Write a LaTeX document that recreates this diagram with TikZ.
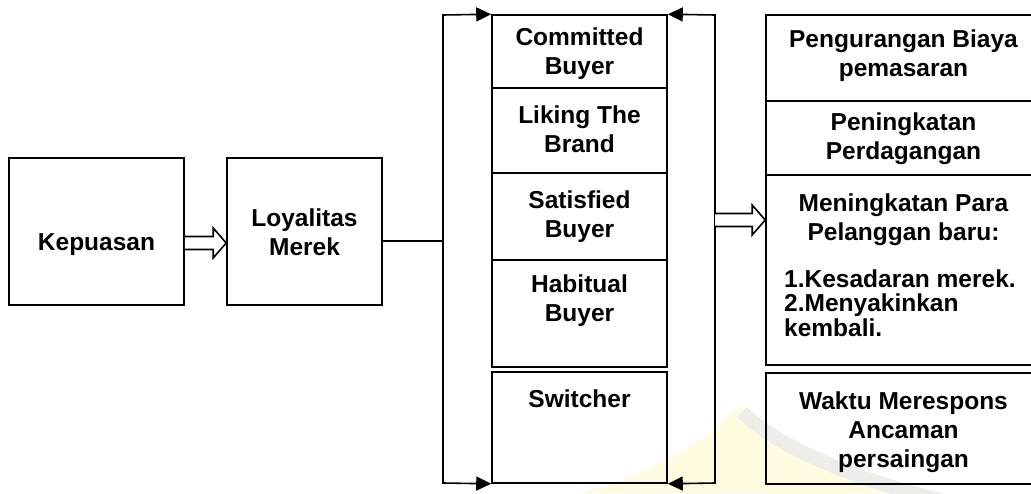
\documentclass[tikz,border=0pt]{standalone}
\usepackage{fontspec}
\setmainfont{Liberation Sans}
\usetikzlibrary{arrows.meta,calc}
\definecolor{crest}{HTML}{FFFBE0}
\definecolor{crestband}{HTML}{EDEDEA}
% lines set at their baselineskip even when they come close
\newcommand\tightlines{\lineskiplimit=-30pt\relax}
% hollow block arrow from the point #1 to the point #2 (horizontal)
\newcommand\fatarrow[2]{%
  \draw[hollow] let \p1=(#1), \p2=(#2) in
    (\x1,\y1+6.5pt) -- (\x2-13pt,\y1+6.5pt) -- (\x2-13pt,\y1+15pt) -- (\x2,\y1)
    -- (\x2-13pt,\y1-15pt) -- (\x2-13pt,\y1-6.5pt) -- (\x1,\y1-6.5pt);}
\begin{document}
\begin{tikzpicture}[x=1pt,y=-1pt,
  box/.style={draw=black,line width=1.6pt,rectangle,inner sep=0pt},
  lbl/.style={font=\fontsize{24.5}{29}\selectfont\bfseries,align=center,inner sep=0pt},
  listlbl/.style={font=\fontsize{24.5}{24.5}\selectfont\bfseries\tightlines,align=left,inner sep=0pt},
  wire/.style={draw=black,line width=1.6pt},
  hollow/.style={draw=black,line width=1.6pt,fill=white,line join=miter},
  tipr/.style={{Triangle[length=15pt,width=14pt]}-{Triangle[length=15pt,width=14pt]}}
]
\useasboundingbox (0,0) rectangle (1031,493);
\clip (0,0) rectangle (1031,493);
\fill[white] (0,0) rectangle (1031,493);

% faint crest in the background
\fill[crest] (580,493) .. controls (650,475) and (710,440) .. (738,405)
  .. controls (770,440) and (850,480) .. (940,493) -- cycle;
\draw[crestband,line width=14pt] (742,412) .. controls (775,445) and (850,478) .. (940,500);

% left pair
\node[box,minimum width=175,minimum height=147] (kep) at (96.5,231.5) {};
\node[box,minimum width=155,minimum height=147] (loy) at (304.5,231.5) {};
\node[lbl] (tkep) at (96.5,245) {Kepuasan};
\node[lbl] (tloy) at (304.5,232.5) {Loyalitas\\Merek};

% loyalty levels
\node[box,minimum width=175,minimum height=73]  (committed) at (579.5,51.5) {};
\node[box,minimum width=175,minimum height=85]  (liking)    at (579.5,130.5) {};
\node[box,minimum width=175,minimum height=87]  (satisfied) at (579.5,216.5) {};
\node[box,minimum width=175,minimum height=107] (habitual)  at (579.5,313.5) {};
\node[box,minimum width=175,minimum height=111] (switcher)  at (579.5,427.5) {};
\node[lbl] (tcommitted) at (579.5,54)  {Committed\\Buyer};
\node[lbl] (tliking)    at (579.5,129) {Liking The\\Brand};
\node[lbl] (tsatisfied) at (579.5,217) {Satisfied\\Buyer};
\node[lbl] (thabitual)  at (579.5,301) {Habitual\\Buyer};
\node[lbl] (tswitcher)  at (579.5,398.5) {Switcher};

% benefits
\node[box,minimum width=279,minimum height=86]  (r1) at (905.5,58) {};
\node[box,minimum width=279,minimum height=74]  (r2) at (905.5,138) {};
\node[box,minimum width=279,minimum height=190] (r3) at (905.5,270) {};
\node[box,minimum width=279,minimum height=111] (r4) at (905.5,428.5) {};
\node[lbl] (tr1) at (903.5,55.5) {Pengurangan Biaya\\pemasaran};
\node[lbl] (tr2) at (903.5,139) {Peningkatan\\Perdagangan};
\node[lbl] (tr3) at (903.5,220) {Meningkatan Para\\Pelanggan baru:};
\node[listlbl,anchor=west] (tr3list) at (784,303) {1.Kesadaran merek.\\2.Menyakinkan\\kembali.};
\node[lbl] (tr4) at (903.5,432) {Waktu Merespons\\Ancaman\\persaingan};

% brackets around the levels
\coordinate (lt) at (443,15);
\coordinate (lb) at (443,483);
\coordinate (rt) at (715,15);
\coordinate (rb) at (715,483);
\draw[wire,tipr] (committed.north west) -- (lt) -- (lb) -- (switcher.south west);
\draw[wire,tipr] (committed.north east) -- (rt) -- (rb) -- (switcher.south east);

% connectors
\draw[wire] ($(loy.east)+(0,9.5)$) coordinate (j) -- (j -| lt);
\coordinate (a1) at ($(kep.east)+(0,11.5)$);
\fatarrow{a1}{a1 -| loy.west}
\coordinate (a2) at (715,220);
\fatarrow{a2}{a2 -| r3.west}
\end{tikzpicture}
\end{document}
